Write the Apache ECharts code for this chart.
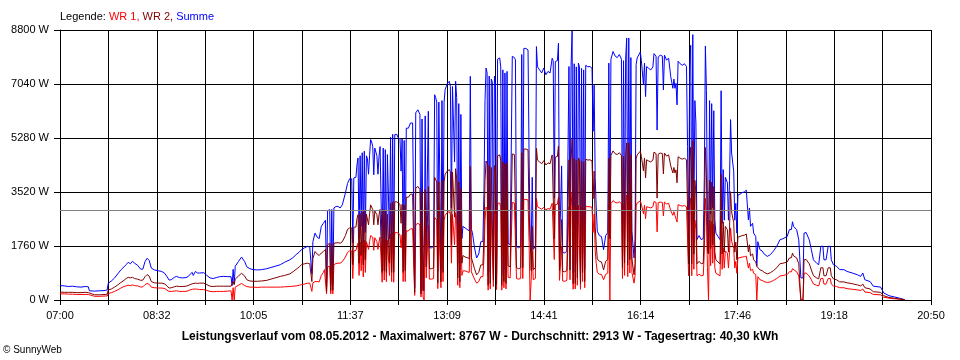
<!DOCTYPE html>
<html><head><meta charset="utf-8">
<script src="https://cdn.jsdelivr.net/npm/echarts@6/dist/echarts.min.js"></script>
<style>html,body{margin:0;padding:0;background:#fff}#c{width:960px;height:360px}</style>
</head><body><div id="c"></div>
<script>
// time in minutes after 07:00
const times = [
0,4,8,12,16,20,24,27,28,33,
38,43,45,46,49,52,55,58,61,63,
65,67,69,71,74,77,79,81,83,84,
85,87,90,94,97,100,102,104,106,109,
111,114,117,120,122,124,126,127,129,131,
133,137,140,143,146,149,152,156,160,163,
164,165,166,167,170,173,174,176,178,181,
184,188,192,197,201,205,210,214,219,222,
225,228,230,233,236,238,239,240,241,243,
245,247,249,251,252,253,254,255,256,257,
258,259,260,261,263,265,267,269,270,272,
274,276,277,278,279,280,282,283,284,285,
286,287,288,289,290,291,292,293,294,295,
296,297,298,299,300,301,302,303,304,305,
306,307,308,309,310,311,312,313,314,315,
316,317,318,319,321,322,324,325,326,327,
328,329,330,332,334,336,337,338,339,341,
343,344,345,346,347,348,349,350,351,352,
354,356,357,358,359,360,361,362,363,364,
365,366,367,368,369,371,372,373,374,375,
376,377,378,379,380,381,382,383,384,386,
388,390,391,392,393,395,397,399,401,403,
404,405,406,407,408,409,410,411,412,413,
414,415,416,417,418,419,420,421,422,423,
424,425,426,427,429,430,431,432,433,434,
435,437,439,440,441,442,444,446,447,448,
449,450,451,452,453,454,455,457,459,461,
463,465,467,469,470,471,472,474,475,476,
477,478,479,481,483,485,486,487,488,489,
490,491,492,493,494,495,496,497,498,499,
500,501,503,505,507,508,509,510,511,512,
514,516,518,520,522,523,524,525,527,529,
531,533,535,536,537,538,539,540,541,542,
543,544,545,547,548,549,550,551,553,554,
556,557,558,559,561,563,565,566,568,569,
570,572,574,575,576,578,580,582,584,585,
586,587,588,589,591,593,595,597,598,599,
600,601,602,603,604,605,606,607,609,611,
613,614,615,616,617,618,619,620,621,622,
623,624,625,627,629,630,631,632,633,634,
636,637,638,639,640,642,643,644,645,646,
648,650,652,654,656,657,658,660,661,663,
664,665,667,669,671,674,677,680,683,686,
689,693,695,697,698,699,702,704,705,706,
708,709,711,712,714,716,718,721,723,725,
727,728,730,732,734,735,737,740,743,747,
750,755,760,763,765,767,772,775,782,785,
790,795,800,805
];
const summe = [
470,460,440,450,430,420,440,430,300,290,
300,310,330,550,620,720,850,980,1080,1150,
1230,1180,1260,1200,1130,1000,1010,1250,1360,1400,
1290,1040,980,950,930,860,760,650,660,740,
770,730,720,730,760,840,900,800,930,880,
880,890,800,720,700,730,760,770,760,760,
470,1000,520,1100,1250,1400,1420,1250,1080,1020,
990,980,990,1020,1060,1100,1150,1230,1310,1380,
1480,1560,1640,1700,1750,1720,1780,850,1900,2180,
2050,2000,2400,2500,2560,2600,450,2900,2940,2950,
500,2950,520,3000,3050,3050,3000,3100,3150,3490,
3800,3950,3900,3950,1860,3980,4000,4400,4630,2000,
4700,2400,4800,1900,4850,2200,4700,4600,4100,4700,
5230,5150,5000,4080,4950,4900,4700,4100,4680,5000,
5000,1480,4950,1600,4900,1500,4740,4700,2000,5300,
1500,5400,1480,5390,5400,5300,5250,4200,5250,1500,
5200,1550,5600,5600,5770,5770,5750,400,6100,6200,
6050,300,5900,400,300,6000,1800,1750,6150,1700,
1700,1750,6690,6600,6450,930,6450,6400,1000,6500,
1500,6450,6860,6950,7050,7130,6960,3000,6960,6900,
4500,7130,6600,1200,6400,1000,6050,2000,2400,2350,
2300,2250,7290,2300,2200,1700,1370,1500,1900,1910,
3500,6500,7560,7400,800,7300,900,7200,7100,1100,
7300,7020,850,7850,7800,7890,7600,800,7500,1000,
7400,900,7450,1850,1800,1850,7940,7990,7900,7830,
1750,1700,1750,8000,1750,8200,8200,8150,4700,2000,
1600,4000,1650,1600,1750,8260,7600,7500,7400,7560,
7340,7450,7400,7880,7800,3320,7770,7800,8370,1600,
1550,4370,1550,1530,1600,7610,1640,7600,8770,880,
7700,900,7600,1200,7720,7600,880,7550,1500,7500,
1000,7650,7600,7610,7550,5500,7000,4000,3000,2240,
2100,2070,1640,2100,2200,7720,2000,7850,8100,7950,
7900,8000,7850,1750,7800,2000,7850,8540,1900,8540,
2200,7900,2240,1370,1970,7670,7890,7830,8080,7800,
7020,7720,6630,7610,7550,7500,7600,8030,7950,5540,
7920,7980,7950,6850,7980,7820,7880,7280,6900,7200,
6900,7060,6360,7780,7700,7650,7700,7610,5000,1970,
7500,8300,1970,8650,2500,6500,5770,1970,2100,1970,
2000,4000,8280,6820,2620,1500,6500,2800,6400,3000,
6170,2620,2180,2070,1970,6820,2500,4250,2600,4000,
3820,2600,3900,5880,4790,4200,2600,3150,2180,3420,
3450,3500,3520,3580,2610,3000,2400,2500,2180,2070,
1100,1900,1640,1600,1500,1420,1480,1600,1750,1960,
2000,2070,2290,2300,2550,2400,2290,1960,1960,720,
720,2180,2200,2260,1960,1640,1310,1200,1150,1750,
1750,1310,1310,1750,1750,1310,1150,1100,990,990,
930,880,820,770,880,660,600,450,420,230,
140,100,60,10
];
const wr2 = [
260,250,250,250,240,240,250,240,180,170,
170,180,190,330,360,420,490,570,640,700,
740,720,740,700,680,640,650,760,830,850,
780,600,560,550,550,520,450,390,400,430,
450,440,440,450,470,500,530,480,550,540,
550,550,500,450,440,450,450,450,450,450,
460,600,500,680,780,870,880,780,660,620,
610,610,620,640,680,720,770,800,850,920,
1000,1080,1150,1180,1200,1180,1220,600,1350,1580,
1500,1450,1530,1580,1600,1650,280,1800,1850,1850,
300,1820,320,1850,1860,1870,1850,1900,1920,2100,
2300,2350,2330,2350,1150,2370,2380,2650,2780,1200,
2820,1450,2880,1150,2900,1300,2800,2750,2450,2800,
3100,3050,2950,2450,2900,2880,2780,2450,2780,2950,
2950,900,2950,950,2900,900,2800,2780,1200,3150,
900,3200,900,3200,3200,3150,3120,2500,3120,900,
3100,950,3350,3350,3450,3450,3450,250,3650,3700,
3600,200,3500,300,300,3600,1080,1050,3700,1020,
1020,1050,4000,3950,3850,560,3850,3850,600,3900,
900,3850,4100,4150,4200,4250,4170,1800,4170,4140,
2700,4280,3950,720,3850,600,3630,1200,1450,1400,
1380,1350,4350,1380,1320,1020,820,900,1140,1150,
2100,3900,4530,4440,480,4380,540,4320,4260,660,
4380,4200,510,4700,4680,4730,4560,480,4500,600,
4440,540,4470,1110,1080,1110,4760,4790,4740,4700,
1050,1020,1050,4800,1050,4920,4920,4890,2820,2000,
960,2400,990,960,1050,4950,4560,4500,4440,4540,
4400,4470,4440,4730,4680,2000,4660,4680,5020,960,
930,2620,930,920,960,4570,980,4560,5250,530,
4620,540,4560,720,4630,4560,530,4530,900,4500,
600,4590,4560,4570,4530,3300,4200,2400,1800,1340,
1260,1240,980,1260,1320,4630,2000,4710,4860,4770,
4740,4800,4710,1050,4680,1200,4710,5120,1140,5120,
1320,4740,1340,820,1180,4600,4730,4700,4850,4680,
4210,4630,3980,4570,4530,4500,4560,4820,4770,3320,
4750,4790,4770,4110,4790,4690,4730,4370,4140,4320,
4140,4240,3820,4670,4620,4590,4620,4570,3000,1180,
4500,4980,1180,5190,1500,3900,3460,1180,1260,1180,
1200,2400,4970,4090,1570,1500,3900,1680,3840,1800,
3700,1570,1310,1240,1180,4090,1500,2550,1560,2400,
2290,1560,2340,3530,2870,2520,1560,1890,1310,2050,
2070,2100,2110,2150,1570,1800,1440,1500,1310,1240,
1100,1140,980,960,900,850,890,960,1050,1180,
1200,1240,1370,1380,1530,1440,1370,1180,1180,0,
0,1310,1320,1360,1180,980,790,720,690,1050,
1050,790,790,1050,1050,790,690,660,590,590,
560,530,490,460,520,400,360,270,250,140,
80,60,30,5
];
const wr1 = [
200,200,190,190,180,180,180,180,120,120,
120,130,130,210,240,280,330,390,440,460,
480,470,490,470,460,420,430,500,540,560,
510,420,400,390,390,370,320,280,280,290,
300,280,280,280,300,330,350,320,360,350,
340,340,310,280,270,280,280,280,290,300,
0,400,0,420,480,540,550,470,440,420,
420,410,420,420,420,420,420,430,440,450,
460,480,500,520,550,550,560,280,560,600,
600,590,800,900,990,1000,200,1080,1100,1100,
200,1130,200,1150,1190,1200,1200,1250,1260,1400,
1550,1600,1580,1600,700,1600,1620,1750,1850,800,
1880,950,1920,750,1950,900,1900,1850,1650,1900,
2100,2080,2050,1620,2030,2000,1900,1650,1900,2050,
2050,580,2000,650,1980,600,1940,1900,800,2150,
600,2200,580,2190,2200,2150,2130,1700,2130,600,
2100,600,2250,2250,2320,2320,2300,150,2450,2500,
2450,100,2400,100,0,2400,720,700,2450,680,
680,700,2690,2650,2600,370,2600,2550,400,2600,
600,2600,2760,2800,2850,2880,2790,1200,2790,2760,
1800,2850,2650,480,2550,400,2420,800,950,950,
920,900,2940,920,880,680,550,600,760,760,
1400,2600,3030,2960,320,2920,360,2880,2840,440,
2920,2820,340,3150,3120,3160,3040,320,3000,400,
2960,360,2980,740,720,740,3180,3200,3160,3130,
700,680,700,3200,700,3280,3280,3260,1880,0,
640,1600,660,640,700,3310,3040,3000,2960,3020,
2940,2980,2960,3150,3120,1320,3110,3120,3350,640,
620,1750,620,610,640,3040,660,3040,3520,350,
3080,360,3040,480,3090,3040,350,3020,600,3000,
400,3060,3040,3040,3020,2200,2800,1600,1200,900,
840,830,660,840,880,3090,0,3140,3240,3180,
3160,3200,3140,700,3120,800,3140,3420,760,3420,
880,3160,900,550,790,3070,3160,3130,3230,3120,
2810,3090,2650,3040,3020,3000,3040,3210,3180,2220,
3170,3190,3180,2740,3190,3130,3150,2910,2760,2880,
2760,2820,2540,3110,3080,3060,3080,3040,2000,790,
3000,3320,790,3460,1000,2600,2310,790,840,790,
800,1600,3310,2730,1050,0,2600,1120,2560,1200,
2470,1050,870,830,790,2730,1000,1700,1040,1600,
1530,1040,1560,2350,1920,1680,1040,1260,870,1370,
1380,1400,1410,1430,1040,1200,960,1000,870,830,
0,760,660,640,600,570,590,640,700,780,
800,830,920,920,1020,960,920,780,780,0,
0,870,880,900,780,660,520,480,460,700,
700,520,520,700,700,520,460,440,400,400,
370,350,330,310,360,260,240,180,170,90,
60,40,30,5
];
const xTickLabels = ['07:00','08:32','10:05','11:37','13:09','14:41','16:14','17:46','19:18','20:50'];
const xSpan = 830;          // minutes from 07:00 to 20:50
const xGridCount = 18;
const yMax = 8800, yStep = 1760;
const average = 2913;
const titleText = 'Leistungsverlauf vom 08.05.2012 - Maximalwert: 8767 W - Durchschnitt: 2913 W - Tagesertrag: 40,30 kWh';

const n = Math.min(times.length, summe.length, wr1.length, wr2.length);
const pairs = arr => times.slice(0, n).map((t, i) => [t, arr[i]]);
const sans = "'Liberation Sans',Arial,sans-serif";
const xStep = xSpan / xGridCount;
const legendStyle = c => ({color: c, fontSize: 11, fontWeight: 'normal', fontFamily: sans});

const chart = echarts.init(document.getElementById('c'), null, {renderer: 'canvas'});
chart.setOption({
  animation: false,
  backgroundColor: '#ffffff',
  title: [
    {left: 60, top: 11, padding: 0,
     text: '{k|Legende: }{a|WR 1, }{b|WR 2, }{c|Summe}',
     textStyle: {fontWeight: 'normal', rich: {
       k: legendStyle('#000000'), a: legendStyle('#ff0000'),
       b: legendStyle('#800000'), c: legendStyle('#0000ff')}}},
    {left: 'center', top: 331, padding: 0, text: titleText,
     textStyle: {color: '#000', fontSize: 12, fontWeight: 'bold', fontFamily: sans}},
    {left: 3, top: 345, padding: 0, text: '\u00a9 SunnyWeb',
     textStyle: {color: '#000', fontSize: 10, fontWeight: 'normal', fontFamily: sans}}
  ],
  grid: {left: 60, right: 29, top: 30, bottom: 60, containLabel: false},
  xAxis: {
    type: 'value', min: 0, max: xSpan, interval: xStep,
    axisLine: {show: true, lineStyle: {color: '#000', width: 1}},
    axisTick: {show: true, length: 5, lineStyle: {color: '#000'}},
    splitLine: {show: true, lineStyle: {color: '#000', width: 1}},
    axisLabel: {
      color: '#000', fontSize: 11, fontFamily: sans, margin: 10, showMinLabel: true, showMaxLabel: true,
      formatter: v => { const i = Math.round(v / xStep); return i % 2 === 0 ? (xTickLabels[i / 2] || '') : ''; }
    }
  },
  yAxis: {
    type: 'value', min: 0, max: yMax, interval: yStep,
    axisLine: {show: true, lineStyle: {color: '#000', width: 1}},
    axisTick: {show: true, length: 6, lineStyle: {color: '#000'}},
    splitLine: {show: true, lineStyle: {color: '#000', width: 1}},
    axisLabel: {color: '#000', fontSize: 11, fontFamily: sans, margin: 11,
      formatter: v => v + ' W'}
  },
  series: [
    {name: 'Summe', type: 'line', data: pairs(summe), showSymbol: false, symbol: 'none',
     lineStyle: {color: '#0000ff', width: 1}, itemStyle: {color: '#0000ff'}, z: 2,
     markLine: {silent: true, symbol: 'none', label: {show: false},
       lineStyle: {color: '#808080', type: 'solid', width: 1}, data: [{yAxis: average}]}},
    {name: 'WR 1', type: 'line', data: pairs(wr1), showSymbol: false, symbol: 'none',
     lineStyle: {color: '#ff0000', width: 1}, itemStyle: {color: '#ff0000'}, z: 3},
    {name: 'WR 2', type: 'line', data: pairs(wr2), showSymbol: false, symbol: 'none',
     lineStyle: {color: '#800000', width: 1}, itemStyle: {color: '#800000'}, z: 4}
  ]
});
</script></body></html>
